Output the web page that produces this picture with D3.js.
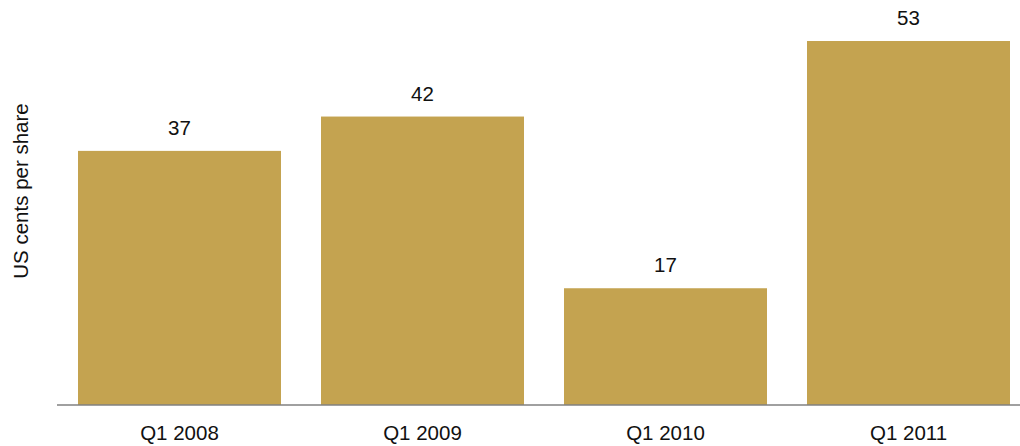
<!DOCTYPE html>
<html><head><meta charset="utf-8">
<script src="https://cdn.jsdelivr.net/npm/d3@7"></script>
<style>body{margin:0;background:#fff;} svg{display:block;font-family:"Liberation Sans",Arial,sans-serif;}</style>
</head><body>
<svg id="c" width="1020" height="446"></svg>
<script>
const categories = ["Q1 2008", "Q1 2009", "Q1 2010", "Q1 2011"];
const values = [37, 42, 17, 53];
const yTitle = "US cents per share";

const svg = d3.select("#c");
const x = d3.scaleBand().domain(categories).range([58, 1030]).paddingInner(40/243).paddingOuter(20/243);
const y = d3.scaleLinear().domain([0, 53]).range([405, 41]);

svg.selectAll("rect.bar").data(values).join("rect")
  .attr("class","bar")
  .attr("x",(d,i)=>x(categories[i]))
  .attr("width",x.bandwidth())
  .attr("y",d=>y(d))
  .attr("height",d=>y(0)-y(d))
  .attr("fill","#C4A350");

svg.selectAll("text.val").data(values).join("text")
  .attr("class","val")
  .attr("x",(d,i)=>x(categories[i])+x.bandwidth()/2)
  .attr("y",d=>y(d)-16)
  .attr("text-anchor","middle")
  .attr("font-size",20.5)
  .attr("fill","#111")
  .text(d=>d);

const xAxis = d3.axisBottom(x).tickSize(0).tickPadding(20);
const gx = svg.append("g").attr("transform","translate(0,405)").call(xAxis);
gx.select(".domain").attr("d","M57,0H1020").attr("stroke","#808080").attr("stroke-width",1.5);
gx.selectAll("text").attr("font-size",20.5).attr("fill","#111").attr("font-family","Liberation Sans, Arial, sans-serif");

svg.append("text")
  .attr("transform","translate(28,191) rotate(-90)")
  .attr("text-anchor","middle")
  .attr("font-size",20.5)
  .attr("fill","#111")
  .text(yTitle);
</script>
</body></html>
